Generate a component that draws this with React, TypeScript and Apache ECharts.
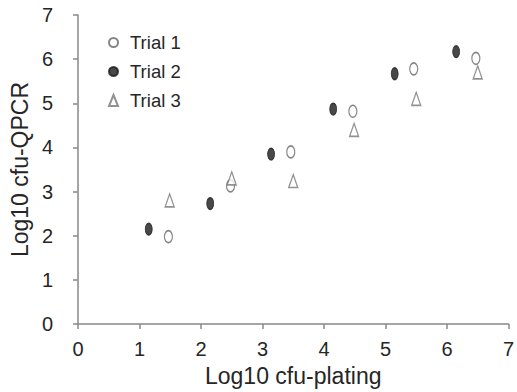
import React, { useEffect, useRef } from "react";
import * as echarts from "echarts";

const trial1X = [1.47, 2.48, 3.46, 4.47, 5.46, 6.47];
const trial1Y = [1.98, 3.13, 3.9, 4.82, 5.78, 6.02];
const trial2X = [1.15, 2.15, 3.14, 4.15, 5.15, 6.15];
const trial2Y = [2.15, 2.73, 3.85, 4.87, 5.67, 6.17];
const trial3X = [1.49, 2.5, 3.5, 4.49, 5.5, 6.5];
const trial3Y = [2.8, 3.3, 3.24, 4.4, 5.1, 5.7];
const seriesNames = ["Trial 1", "Trial 2", "Trial 3"];

const ellipse = "path://M0,-1 A1,1 0 1,1 0,1 A1,1 0 1,1 0,-1 Z";
const FONT = "Liberation Sans";

function pairs(xs: number[], ys: number[]) {
  return xs.map((x, i) => [x, ys[i]]);
}

export default function App() {
  const ref = useRef<HTMLDivElement>(null);
  useEffect(() => {
    if (!ref.current) return;
    const chart = echarts.init(ref.current, null, { renderer: "svg" });
    const axisCommon = {
      type: "value" as const,
      min: 0,
      max: 7,
      interval: 1,
      splitLine: { show: false },
      axisLine: { show: true, lineStyle: { color: "#888", width: 1.5 } },
      axisTick: { show: true, length: 5, lineStyle: { color: "#888", width: 1.5 } },
      nameLocation: "middle" as const,
      nameTextStyle: { fontFamily: FONT, fontSize: 23, color: "#262626" },
    };
    chart.setOption({
      animation: false,
      grid: { left: 78, right: 5, top: 15, bottom: 65 },
      legend: {
        orient: "vertical",
        left: 103,
        top: 28,
        itemGap: 10,
        itemWidth: 9,
        itemHeight: 11,
        textStyle: { fontFamily: FONT, fontSize: 18.5, color: "#262626", padding: [0, 0, 0, 7] },
        data: seriesNames,
      },
      xAxis: {
        ...axisCommon,
        name: "Log10 cfu-plating",
        nameGap: 39,
        axisLabel: { fontFamily: FONT, fontSize: 20, color: "#262626", margin: 15 },
      },
      yAxis: {
        ...axisCommon,
        name: "Log10 cfu-QPCR",
        nameGap: 47,
        axisLabel: { fontFamily: FONT, fontSize: 20, color: "#262626", margin: 25 },
      },
      series: [
        {
          name: seriesNames[0],
          type: "scatter",
          symbol: ellipse,
          symbolSize: [8, 12],
          itemStyle: { color: "#fff", borderColor: "#666", borderWidth: 1.4 },
          data: pairs(trial1X, trial1Y),
        },
        {
          name: seriesNames[1],
          type: "scatter",
          symbol: ellipse,
          symbolSize: [7, 12],
          itemStyle: { color: "#1a1a1a", borderColor: "#1a1a1a", borderWidth: 1 },
          data: pairs(trial2X, trial2Y),
        },
        {
          name: seriesNames[2],
          type: "scatter",
          symbol: "triangle",
          symbolSize: [9, 13],
          itemStyle: { color: "#fff", borderColor: "#777", borderWidth: 1.4 },
          data: pairs(trial3X, trial3Y),
        },
      ],
    });
    return () => chart.dispose();
  }, []);
  return <div ref={ref} style={{ width: 517, height: 392, position: "absolute", left: 0, top: 0 }} />;
}
